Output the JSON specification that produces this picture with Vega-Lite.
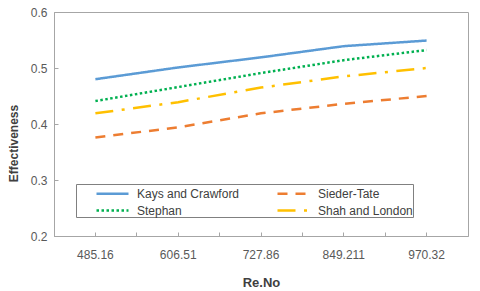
{
  "$schema": "https://vega.github.io/schema/vega-lite/v6.json",
  "width": 414,
  "height": 224,
  "autosize": {"type": "none"},
  "padding": {"left": 54, "top": 12, "right": 12, "bottom": 55},
  "background": "white",
  "config": {
    "font": "Liberation Sans",
    "view": {"stroke": "#a6a6a6", "strokeWidth": 1},
    "axis": {
      "labelFont": "Liberation Sans",
      "labelFontSize": 12,
      "labelColor": "#595959",
      "titleFont": "Liberation Sans",
      "titleColor": "#404040",
      "domainColor": "#a6a6a6",
      "tickColor": "#a6a6a6",
      "grid": false
    },
    "legend": {
      "title": null, "orient": "none", "legendX": 22, "legendY": 172, "direction": "horizontal",
      "columns": 2, "symbolType": "M-2,0H2", "symbolSize": 256, "symbolStrokeWidth": 2.5,
      "labelFont": "Liberation Sans", "labelFontSize": 12, "labelColor": "#404040", "labelOffset": 15, "labelLimit": 200,
      "strokeColor": "#808080", "padding": 0, "symbolOffset": 27,
      "columnPadding": 17, "rowPadding": 1, "gridAlign": "all"
    }
  },
  "data": {
    "values": [
      {"re": "485.16", "series": "Kays and Crawford", "eff": 0.48},
      {"re": "606.51", "series": "Kays and Crawford", "eff": 0.501},
      {"re": "727.86", "series": "Kays and Crawford", "eff": 0.519},
      {"re": "849.211", "series": "Kays and Crawford", "eff": 0.539},
      {"re": "970.32", "series": "Kays and Crawford", "eff": 0.549},
      {"re": "485.16", "series": "Sieder-Tate", "eff": 0.376},
      {"re": "606.51", "series": "Sieder-Tate", "eff": 0.394},
      {"re": "727.86", "series": "Sieder-Tate", "eff": 0.419},
      {"re": "849.211", "series": "Sieder-Tate", "eff": 0.436},
      {"re": "970.32", "series": "Sieder-Tate", "eff": 0.45},
      {"re": "485.16", "series": "Stephan", "eff": 0.441},
      {"re": "606.51", "series": "Stephan", "eff": 0.466},
      {"re": "727.86", "series": "Stephan", "eff": 0.491},
      {"re": "849.211", "series": "Stephan", "eff": 0.514},
      {"re": "970.32", "series": "Stephan", "eff": 0.532},
      {"re": "485.16", "series": "Shah and London", "eff": 0.419},
      {"re": "606.51", "series": "Shah and London", "eff": 0.439},
      {"re": "727.86", "series": "Shah and London", "eff": 0.465},
      {"re": "849.211", "series": "Shah and London", "eff": 0.485},
      {"re": "970.32", "series": "Shah and London", "eff": 0.5}
    ]
  },
  "layer": [
    {
      "mark": {"type": "point", "opacity": 0},
      "encoding": {
        "x": {
          "field": "re", "type": "ordinal", "sort": null,
          "scale": {"type": "band", "paddingInner": 0, "paddingOuter": 0},
          "axis": {"orient": "bottom", "labels": false, "domain": false, "title": null, "bandPosition": 0, "tickSize": -4}
        }
      }
    },
    {
      "mark": {"type": "line", "strokeWidth": 2.5, "strokeCap": "butt"},
      "encoding": {
        "x": {
          "field": "re", "type": "ordinal", "sort": null,
          "scale": {"type": "band", "paddingInner": 0, "paddingOuter": 0},
          "axis": {"orient": "bottom", "title": "Re.No", "titleFontSize": 13, "titleFontWeight": "bold", "labelAngle": 0, "tickSize": -4, "labelPadding": 17, "titlePadding": 16}
        },
        "y": {
          "field": "eff", "type": "quantitative",
          "scale": {"domain": [0.2, 0.6], "nice": false, "zero": false},
          "axis": {"values": [0.2, 0.3, 0.4, 0.5, 0.6], "format": ".1f", "tickSize": -4, "labelPadding": 11, "title": "Effectiveness", "titleFontSize": 12, "titleFontWeight": "bold", "titleY": 131, "titlePadding": 10}
        },
        "color": {
          "field": "series", "type": "nominal",
          "scale": {"domain": ["Kays and Crawford", "Sieder-Tate", "Stephan", "Shah and London"], "range": ["#5B9BD5", "#ED7D31", "#00B050", "#FFC000"]}
        },
        "strokeDash": {
          "field": "series", "type": "nominal",
          "scale": {"domain": ["Kays and Crawford", "Sieder-Tate", "Stephan", "Shah and London"], "range": [[1, 0], [10, 8], [2.5, 2.5], [18, 8.5, 3, 8.5]]}
        }
      }
    }
  ],
  "resolve": {"axis": {"x": "independent"}}
}
